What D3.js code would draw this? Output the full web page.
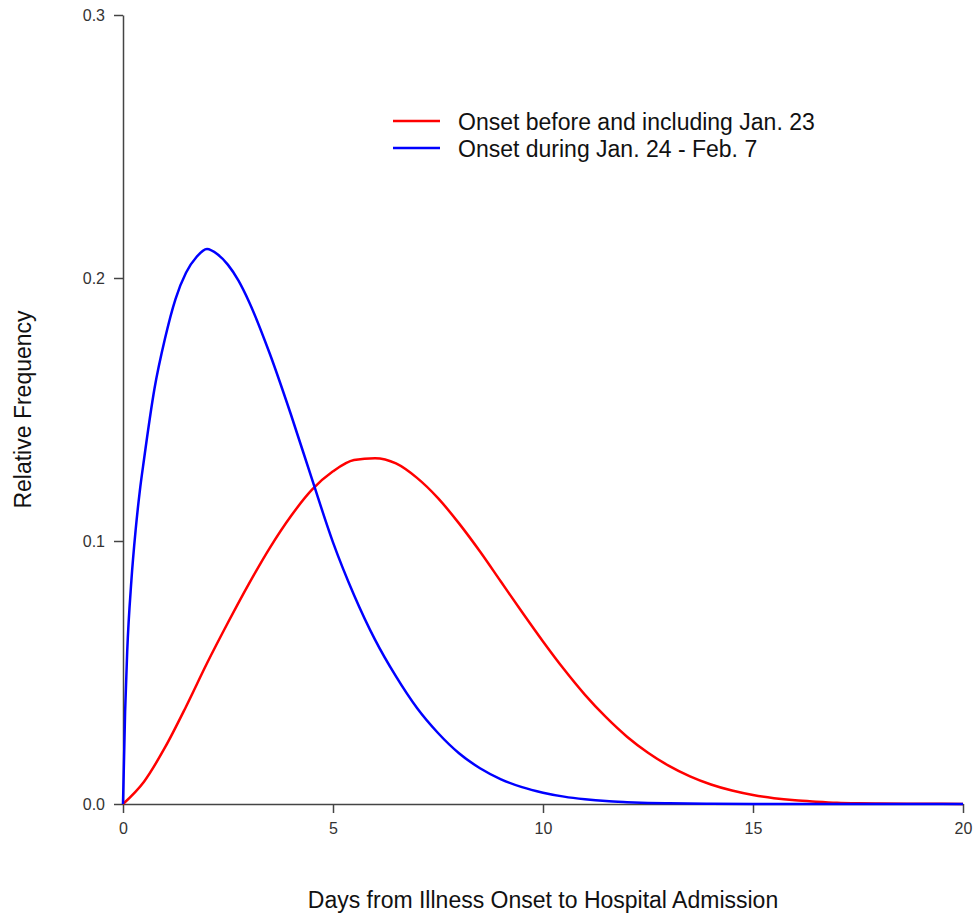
<!DOCTYPE html>
<html>
<head>
<meta charset="utf-8">
<script src="https://cdn.jsdelivr.net/npm/d3@7"></script>
<style>
  body { margin: 0; background: #fff; }
  text { font-family: "Liberation Sans", Arial, sans-serif; }
</style>
</head>
<body>
<div id="chart"></div>
<script>
// days from onset
var daysEarly = [0, 0.5, 1, 1.5, 2, 2.5, 3, 3.5, 4, 4.5, 5, 5.5, 6, 6.5, 7, 7.5, 8, 8.5, 9, 9.5,
                 10, 10.5, 11, 11.5, 12, 12.5, 13, 13.5, 14, 14.5, 15, 15.5, 16, 16.5, 17, 17.5, 18, 19, 20];
var freqEarly = [0, 0.0085, 0.0215, 0.037, 0.0535, 0.069, 0.0838, 0.0975, 0.1095, 0.1195, 0.1265, 0.1308, 0.1315, 0.1295, 0.124, 0.1163, 0.1067, 0.096, 0.0845, 0.073,
                 0.0618, 0.0512, 0.0415, 0.033, 0.0256, 0.0195, 0.0145, 0.0105, 0.0074, 0.0051, 0.0034, 0.0022, 0.0014, 0.0009, 0.0005, 0.0003, 0.0002, 0.0001, 0];

var daysLate = [0, 0.05, 0.1, 0.2, 0.3, 0.4, 0.5, 0.75, 1, 1.25, 1.5, 1.75, 2, 2.25, 2.5, 2.75, 3, 3.5, 4, 4.5,
                5, 5.5, 6, 6.5, 7, 7.5, 8, 8.5, 9, 9.5, 10, 10.5, 11, 11.5, 12, 12.5, 13, 14, 15, 20];
var freqLate = [0, 0.035, 0.058, 0.085, 0.104, 0.119, 0.131, 0.158, 0.177, 0.192, 0.202, 0.208, 0.211, 0.209, 0.205, 0.199, 0.191, 0.171, 0.148, 0.1235,
                0.0995, 0.0795, 0.0625, 0.0485, 0.0365, 0.027, 0.0193, 0.0136, 0.0094, 0.0064, 0.0043, 0.0028, 0.0018, 0.0011, 0.0007, 0.0004, 0.00025, 0.0001, 0.00003, 0];

var seriesNames = ["Onset before and including Jan. 23", "Onset during Jan. 24 - Feb. 7"];
var seriesColors = ["#ff0000", "#0000ff"];

var xTicks = [0, 5, 10, 15, 20];
var yTicks = [0, 0.1, 0.2, 0.3];

var width = 974, height = 915;
var margin = {top: 15, right: 11, bottom: 111, left: 123};

var svg = d3.select("#chart").append("svg")
    .attr("width", width)
    .attr("height", height);

var x = d3.scaleLinear().domain([0, 20]).range([margin.left, width - margin.right]);
var y = d3.scaleLinear().domain([0, 0.3]).range([height - margin.bottom, margin.top]);

// axes
svg.append("g")
    .attr("transform", "translate(0," + y(0) + ")")
    .call(d3.axisBottom(x).tickValues(xTicks).tickFormat(d3.format("d")).tickSize(9).tickSizeOuter(0).tickPadding(10));

svg.append("g")
    .attr("transform", "translate(" + x(0) + ",0)")
    .call(d3.axisLeft(y).tickValues(yTicks).tickFormat(d3.format(".1f")).tickSize(9).tickSizeOuter(0).tickPadding(9));

svg.selectAll(".domain, .tick line")
    .attr("stroke", "#444")
    .attr("stroke-width", 1.5);
svg.selectAll(".tick text")
    .attr("fill", "#333")
    .style("font-size", "16px")
    .style("font-family", "'Liberation Sans', Arial, sans-serif");

// curves
var line = d3.line()
    .x(function(d) { return x(d[0]); })
    .y(function(d) { return y(d[1]); })
    .curve(d3.curveMonotoneX);

var curves = [d3.zip(daysEarly, freqEarly), d3.zip(daysLate, freqLate)];

svg.selectAll(".curve")
    .data(curves)
    .enter().append("path")
    .attr("class", "curve")
    .attr("fill", "none")
    .attr("stroke", function(d, i) { return seriesColors[i]; })
    .attr("stroke-width", 2.5)
    .attr("d", line);

// legend
var legend = svg.selectAll(".legend")
    .data(seriesNames)
    .enter().append("g")
    .attr("class", "legend")
    .attr("transform", function(d, i) { return "translate(393," + (121 + i * 27) + ")"; });

legend.append("line")
    .attr("x1", 0).attr("x2", 47)
    .attr("stroke", function(d, i) { return seriesColors[i]; })
    .attr("stroke-width", 2.5);

legend.append("text")
    .attr("x", 65)
    .attr("dy", "0.4em")
    .attr("fill", "#111")
    .style("font-size", "23px")
    .text(function(d) { return d; });

// axis titles
svg.append("text")
    .attr("x", (x(0) + x(20)) / 2)
    .attr("y", 908)
    .attr("text-anchor", "middle")
    .attr("fill", "#111")
    .style("font-size", "23px")
    .text("Days from Illness Onset to Hospital Admission");

svg.append("text")
    .attr("transform", "translate(31," + ((y(0) + y(0.3)) / 2) + ") rotate(-90)")
    .attr("text-anchor", "middle")
    .attr("fill", "#111")
    .style("font-size", "23px")
    .text("Relative Frequency");
</script>
</body>
</html>
